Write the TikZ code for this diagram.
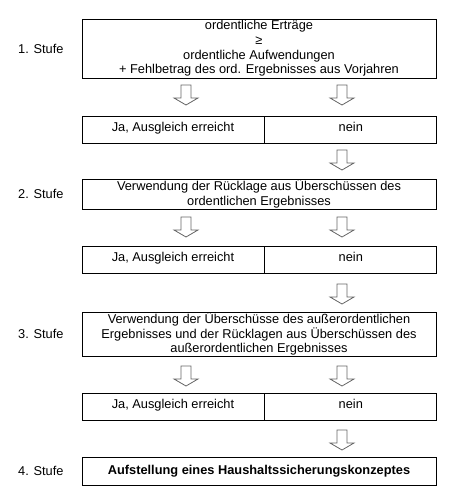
\documentclass[tikz,border=0pt]{standalone}
\usepackage{fontspec}
\setmainfont{Liberation Sans}
\usetikzlibrary{positioning,calc}

\begin{document}
\begin{tikzpicture}[x=1pt, y=-1pt,
            box/.style={draw, line width=0.8pt, inner sep=0pt, align=center,
                        font=\fontsize{12.8}{14.7}\selectfont},
            wide/.style={box, minimum width=354pt},
            half/.style={box, minimum height=27pt, text height=9.2pt, text depth=6pt},
            stufe/.style={anchor=west, inner sep=0pt, font=\fontsize{12.8}{14.7}\selectfont},
            blockarrow/.pic={\draw[line width=0.8pt, black!60, line join=miter]
                (-5,0) -- (-5,13) -- (-12,13) -- (0,20) -- (12,13) -- (5,13) -- (5,0) -- cycle;}]
  \useasboundingbox (0,0) rectangle (462,486);

  % Stufe 1
  \node[wide, minimum height=59pt] (s1) at (259,48.5)
        {ordentliche Erträge\\ ≥\\ ordentliche Aufwendungen\\ + Fehlbetrag des ord. Ergebnisses aus Vorjahren};
  \node[half, minimum width=182pt] (ja1) at (173,129.5) {Ja, Ausgleich erreicht};
  \node[half, minimum width=172pt, right=0pt of ja1] (nein1) {nein};

  % Stufe 2
  \node[wide, minimum height=30pt] (s2) at (259,194)
        {Verwendung der Rücklage aus Überschüssen des\\ ordentlichen Ergebnisses};
  \node[half, minimum width=182pt] (ja2) at (173,260) {Ja, Ausgleich erreicht};
  \node[half, minimum width=172pt, right=0pt of ja2] (nein2) {nein};

  % Stufe 3
  \node[wide, minimum height=44pt] (s3) at (259,334)
        {Verwendung der Überschüsse des außerordentlichen\\ Ergebnisses und der Rücklagen aus Überschüssen des\\ außerordentlichen Ergebnisses};
  \node[half, minimum width=182pt] (ja3) at (173,406.5) {Ja, Ausgleich erreicht};
  \node[half, minimum width=172pt, right=0pt of ja3] (nein3) {nein};

  % Stufe 4
  \node[wide, minimum height=28pt] (s4) at (259,471)
        {\textbf{Aufstellung eines Haushaltssicherungskonzeptes}};

  % labels
  \node[stufe] (l1) at (18,48.5) {1. Stufe};
  \node[stufe] (l2) at (18,194) {2. Stufe};
  \node[stufe] (l3) at (18,334) {3. Stufe};
  \node[stufe] (l4) at (18,471) {4. Stufe};

  % arrows
  \foreach \y in {85,217,366}
     \pic at (186,\y) {blockarrow};
  \foreach \y in {85,150,217,284,366,430}
     \pic at (342,\y) {blockarrow};
\end{tikzpicture}
\end{document}
